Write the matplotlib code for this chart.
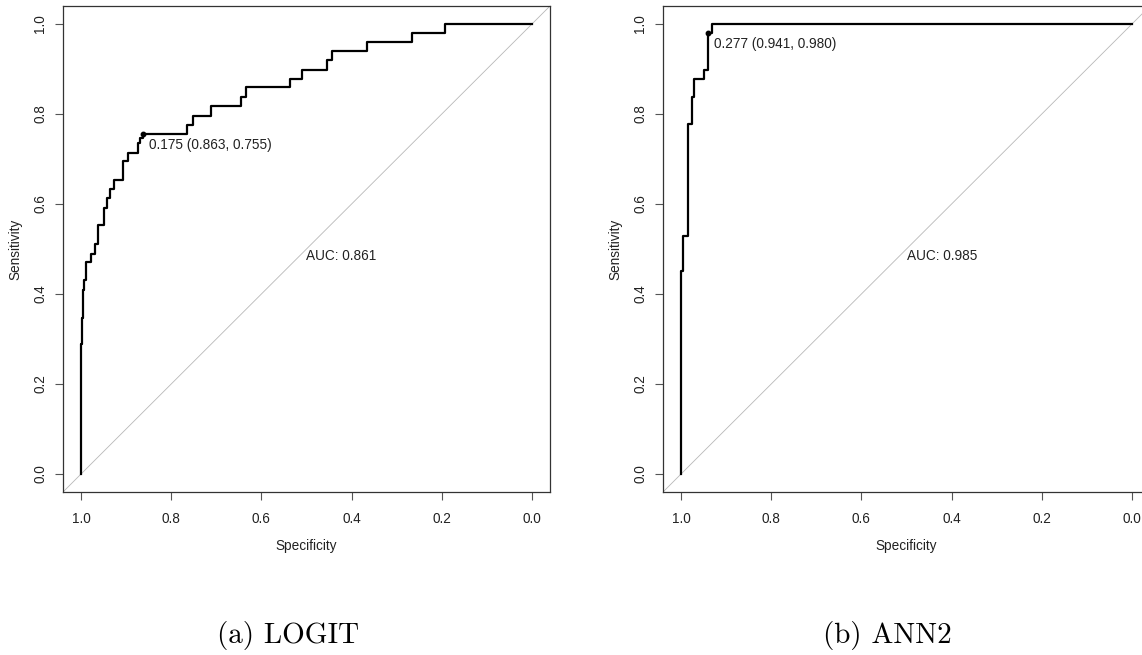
import matplotlib
matplotlib.use("Agg")
import matplotlib.pyplot as plt

plt.rcParams['font.family'] = ['Liberation Sans', 'DejaVu Sans']

# ---- data (specificity, sensitivity of step corners) ----
logit_spec = [1.000, 1.000, 0.998, 0.996, 0.993, 0.990, 0.979, 0.970, 0.962, 0.948,
              0.942, 0.935, 0.927, 0.906, 0.896, 0.873, 0.870, 0.863, 0.766, 0.751,
              0.711, 0.646, 0.635, 0.537, 0.509, 0.455, 0.443, 0.365, 0.267, 0.193, 0.000]
logit_sens = [0.000, 0.288, 0.347, 0.410, 0.432, 0.471, 0.490, 0.512, 0.553, 0.591,
              0.613, 0.633, 0.654, 0.695, 0.713, 0.735, 0.747, 0.755, 0.776, 0.796,
              0.818, 0.837, 0.859, 0.878, 0.898, 0.919, 0.939, 0.959, 0.980, 1.000, 1.000]

ann_spec = [1.000, 1.000, 0.999, 0.996, 0.984, 0.976, 0.972, 0.948, 0.941, 0.931, 0.000]
ann_sens = [0.000, 0.410, 0.451, 0.530, 0.778, 0.837, 0.878, 0.898, 0.980, 1.000, 1.000]

panels = [
    dict(spec=logit_spec, sens=logit_sens, thr=0.175, thr_spec=0.863, thr_sens=0.755,
         auc=0.861, caption="(a) LOGIT"),
    dict(spec=ann_spec, sens=ann_sens, thr=0.277, thr_spec=0.941, thr_sens=0.980,
         auc=0.985, caption="(b) ANN2"),
]
ticks = [1.0, 0.8, 0.6, 0.4, 0.2, 0.0]
tick_labels = ["1.0", "0.8", "0.6", "0.4", "0.2", "0.0"]

W, H = 1142, 655
fig = plt.figure(figsize=(W / 100, H / 100), dpi=100)

ax_lefts = [63, 663]
caption_x = [288, 887]
FS = 9.8
TXT = '#222222'
for p, lx, cx in zip(panels, ax_lefts, caption_x):
    ax = fig.add_axes([lx / W, (H - 492) / H, 487 / W, 486 / H])
    ax.set_xlim(1.04, -0.04)
    ax.set_ylim(-0.04, 1.04)
    ax.axline((1, 0), (0, 1), color='#b8b8b8', lw=0.6, zorder=1)
    ax.plot(p['spec'], p['sens'], drawstyle='steps-post', color='black', lw=1.6, zorder=3)
    ax.plot([p['thr_spec']], [p['thr_sens']], 'o', color='black', ms=3.2, zorder=4)
    ax.annotate(f"{p['thr']:.3f} ({p['thr_spec']:.3f}, {p['thr_sens']:.3f})",
                xy=(p['thr_spec'], p['thr_sens']), xytext=(6, -11),
                textcoords='offset pixels', ha='left', va='center', fontsize=FS,
                color=TXT)
    ax.text(0.5, 0.5, f"AUC: {p['auc']:.3f}", ha='left', va='top', fontsize=FS,
            color=TXT)
    ax.set_xticks(ticks)
    ax.set_xticklabels(tick_labels)
    ax.set_yticks(ticks[::-1])
    ax.set_yticklabels(tick_labels[::-1])
    ax.tick_params(length=5.5, width=0.8, labelsize=FS, color='#555555',
                   labelcolor=TXT)
    ax.tick_params(axis='x', pad=9)
    ax.tick_params(axis='y', pad=6)
    for lbl in ax.get_yticklabels():
        lbl.set_rotation(90)
        lbl.set_va('center')
    for s in ax.spines.values():
        s.set_linewidth(0.9)
        s.set_color('#333333')
    ax.set_xlabel("Specificity", fontsize=FS, labelpad=9, color=TXT)
    ax.set_ylabel("Sensitivity", fontsize=FS, labelpad=7.5, color=TXT)
    fig.text(cx / W, 1 - 635 / H, p['caption'], ha='center', va='center',
             fontsize=21, family='cmr10')

fig.savefig("out.png", dpi=100)
